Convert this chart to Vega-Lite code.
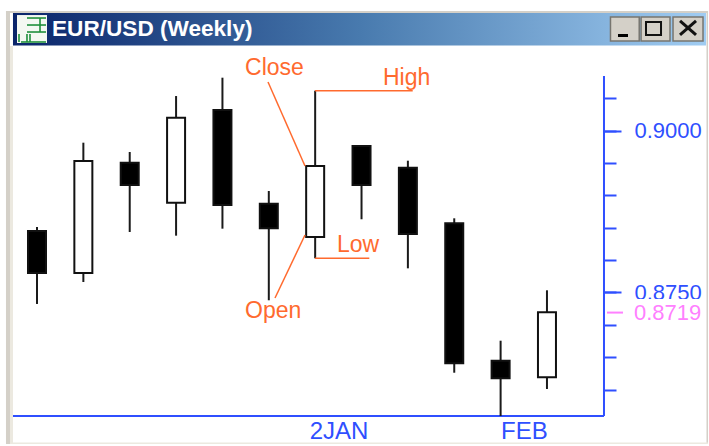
{
"$schema":"https://vega.github.io/schema/vega-lite/v6.json",
"width":709,"height":446,"padding":0,"autosize":{"type":"none"},"background":"#ffffff",
"config":{"view":{"stroke":null},"axis":{"grid":false,"title":null},"scale":{"continuousPadding":0}},
"datasets":{
"candles":[
{"week":0,"open":0.88449,"close":0.87801,"high":0.88511,"low":0.87323,"direction":"down"},
{"week":1,"open":0.87801,"close":0.89529,"high":0.89812,"low":0.87662,"direction":"up"},
{"week":2,"open":0.89503,"close":0.89159,"high":0.89668,"low":0.88434,"direction":"down"},
{"week":3,"open":0.88886,"close":0.90198,"high":0.90532,"low":0.88377,"direction":"up"},
{"week":4,"open":0.90316,"close":0.8885,"high":0.90815,"low":0.88485,"direction":"down"},
{"week":5,"open":0.8887,"close":0.88491,"high":0.89066,"low":0.8738,"direction":"down"},
{"week":6,"open":0.88356,"close":0.89452,"high":0.90614,"low":0.88028,"direction":"up"},
{"week":7,"open":0.89761,"close":0.89159,"high":0.89776,"low":0.8863,"direction":"down"},
{"week":8,"open":0.89426,"close":0.88403,"high":0.89534,"low":0.87873,"direction":"down"},
{"week":9,"open":0.88568,"close":0.86407,"high":0.88645,"low":0.86262,"direction":"down"},
{"week":10,"open":0.86448,"close":0.86176,"high":0.86756,"low":0.85594,"direction":"down"},
{"week":11,"open":0.86191,"close":0.87194,"high":0.87534,"low":0.86011,"direction":"up"}
],
"frame":[
{"part":"frame","x0":-0.669,"x1":-0.582,"p0":0.91844,"p1":0.85162},
{"part":"frameLight","x0":-0.582,"x1":-0.518,"p0":0.91304,"p1":0.85162},
{"part":"frame","x0":-0.669,"x1":14.474,"p0":0.91844,"p1":0.91813},
{"part":"frame","x0":14.441,"x1":14.474,"p0":0.91844,"p1":0.85162},
{"part":"frameLight","x0":-0.582,"x1":14.474,"p0":0.85185,"p1":0.85162}
],
"titlebar":[{"x0":-0.518,"x1":14.431,"p0":0.91813,"p1":0.91312}],
"buttons":[
{"name":"minimize","x0":12.37,"x1":12.99,"p0":0.91752,"p1":0.91381},
{"name":"maximize","x0":13.03,"x1":13.654,"p0":0.91752,"p1":0.91381},
{"name":"close","x0":13.719,"x1":14.366,"p0":0.91752,"p1":0.91381}
],
"glyphs":[
{"part":"icon","x0":-0.431,"x1":0.216,"p0":0.91782,"p1":0.9135},
{"part":"glyph","x0":12.532,"x1":12.748,"p0":0.91489,"p1":0.91443}
],
"maxGlyph":[{"x0":13.136,"x1":13.46,"p0":0.91674,"p1":0.91474}],
"closeGlyph":[
{"x0":13.87,"x1":14.215,"p0":0.9169,"p1":0.91474},
{"x0":13.87,"x1":14.215,"p0":0.91474,"p1":0.9169}
],
"iconLines":[
{"x0":-0.216,"x1":0.194,"p0":0.91736,"p1":0.91736},
{"x0":-0.216,"x1":0.194,"p0":0.91628,"p1":0.91628},
{"x0":-0.216,"x1":0.194,"p0":0.9152,"p1":0.9152},
{"x0":-0.345,"x1":0.194,"p0":0.91366,"p1":0.91366},
{"x0":0.065,"x1":0.065,"p0":0.91736,"p1":0.9152},
{"x0":-0.388,"x1":-0.388,"p0":0.91489,"p1":0.91366},
{"x0":-0.151,"x1":-0.151,"p0":0.91489,"p1":0.91366},
{"x0":-0.216,"x1":-0.216,"p0":0.91489,"p1":0.91366}
],
"windowTitle":[{"label":"EUR/USD (Weekly)","x0":0.324,"p0":0.91463}],
"axisLines":[
{"x0":12.23,"x1":12.23,"p0":0.90841,"p1":0.85594},
{"x0":-0.518,"x1":12.23,"p0":0.85594,"p1":0.85594}
],
"annotations":[
{"name":"Close","x0":4.983,"p0":0.90748,"x1":5.781,"p1":0.89452},
{"name":"High","x0":5.996,"p0":0.90614,"x1":8.104,"p1":0.90614},
{"name":"Low","x0":5.996,"p0":0.88028,"x1":7.168,"p1":0.88028},
{"name":"Open","x0":5.781,"p0":0.88387,"x1":5.134,"p1":0.87415}
],
"annotationLabels":[
{"label":"Close","x0":4.487,"p0":0.90856},
{"label":"High","x0":7.463,"p0":0.90702},
{"label":"Low","x0":6.471,"p0":0.88125},
{"label":"Open","x0":4.487,"p0":0.87106}
],
"patch":[{"x0":12.7,"x1":14.41,"p0":0.874,"p1":0.87037}],
"current":[{"label":"0.8719","price":0.8719,"x0":12.295,"x1":12.64,"xText":12.877}]
},
"resolve":{"axis":{"x":"independent","y":"independent"}},
"layer":[
{"data":{"name":"frame"},"mark":{"type":"rect"},"encoding":{
"x":{"field":"x0","type":"quantitative","axis":null,"scale":{"domain":[-0.798,14.495],"nice":false,"zero":false,"padding":0}},"x2":{"field":"x1"},
"y":{"field":"p0","type":"quantitative","axis":null,"scale":{"domain":[0.85131,0.92014],"nice":false,"zero":false}},"y2":{"field":"p1"},
"fill":{"field":"part","type":"nominal","legend":null,"scale":{"domain":["frame","frameLight","icon","glyph","up","down"],"range":["#d4d0c8","#ece9e0","#f4f8f2","#000000","#ffffff","#000000"]}}}},
{"data":{"name":"titlebar"},"mark":{"type":"rect","fill":{"gradient":"linear","x1":0,"y1":0,"x2":1,"y2":0,"stops":[{"offset":0,"color":"#0a246a"},{"offset":0.5,"color":"#487aae"},{"offset":1,"color":"#a0ccf2"}]}},"encoding":{
"x":{"field":"x0","type":"quantitative","axis":null,"scale":{"domain":[-0.798,14.495],"nice":false,"zero":false,"padding":0}},"x2":{"field":"x1"},
"y":{"field":"p0","type":"quantitative","axis":null,"scale":{"domain":[0.85131,0.92014],"nice":false,"zero":false}},"y2":{"field":"p1"}}},
{"data":{"name":"buttons"},"mark":{"type":"rect","fill":"#d4d0c8","stroke":"#77756f","strokeWidth":1.5},"encoding":{
"x":{"field":"x0","type":"quantitative","axis":null,"scale":{"domain":[-0.798,14.495],"nice":false,"zero":false,"padding":0}},"x2":{"field":"x1"},
"y":{"field":"p0","type":"quantitative","axis":null,"scale":{"domain":[0.85131,0.92014],"nice":false,"zero":false}},"y2":{"field":"p1"}}},
{"data":{"name":"glyphs"},"mark":{"type":"rect"},"encoding":{
"x":{"field":"x0","type":"quantitative","axis":null,"scale":{"domain":[-0.798,14.495],"nice":false,"zero":false,"padding":0}},"x2":{"field":"x1"},
"y":{"field":"p0","type":"quantitative","axis":null,"scale":{"domain":[0.85131,0.92014],"nice":false,"zero":false}},"y2":{"field":"p1"},
"fill":{"field":"part","type":"nominal","legend":null,"scale":{"domain":["frame","frameLight","icon","glyph","up","down"],"range":["#d4d0c8","#ece9e0","#f4f8f2","#000000","#ffffff","#000000"]}}}},
{"data":{"name":"maxGlyph"},"mark":{"type":"rect","fillOpacity":0,"stroke":"#111111","strokeWidth":2},"encoding":{
"x":{"field":"x0","type":"quantitative","axis":null,"scale":{"domain":[-0.798,14.495],"nice":false,"zero":false,"padding":0}},"x2":{"field":"x1"},
"y":{"field":"p0","type":"quantitative","axis":null,"scale":{"domain":[0.85131,0.92014],"nice":false,"zero":false}},"y2":{"field":"p1"}}},
{"data":{"name":"closeGlyph"},"mark":{"type":"rule","color":"#111111","strokeWidth":3},"encoding":{
"x":{"field":"x0","type":"quantitative","axis":null,"scale":{"domain":[-0.798,14.495],"nice":false,"zero":false,"padding":0}},"x2":{"field":"x1"},
"y":{"field":"p0","type":"quantitative","axis":null,"scale":{"domain":[0.85131,0.92014],"nice":false,"zero":false}},"y2":{"field":"p1"}}},
{"data":{"name":"iconLines"},"mark":{"type":"rule","color":"#1f8f3c","strokeWidth":1.6},"encoding":{
"x":{"field":"x0","type":"quantitative","axis":null,"scale":{"domain":[-0.798,14.495],"nice":false,"zero":false,"padding":0}},"x2":{"field":"x1"},
"y":{"field":"p0","type":"quantitative","axis":null,"scale":{"domain":[0.85131,0.92014],"nice":false,"zero":false}},"y2":{"field":"p1"}}},
{"data":{"name":"windowTitle"},"mark":{"type":"text","align":"left","baseline":"alphabetic","font":"Liberation Sans","fontSize":22.6,"fontWeight":"bold","color":"#ffffff"},"encoding":{
"x":{"field":"x0","type":"quantitative","axis":null,"scale":{"domain":[-0.798,14.495],"nice":false,"zero":false,"padding":0}},
"y":{"field":"p0","type":"quantitative","axis":null,"scale":{"domain":[0.85131,0.92014],"nice":false,"zero":false}},
"text":{"field":"label"}}},
{"data":{"name":"axisLines"},"mark":{"type":"rule","color":"#2f4fff","strokeWidth":2},"encoding":{
"x":{"field":"x0","type":"quantitative","axis":null,"scale":{"domain":[-0.798,14.495],"nice":false,"zero":false,"padding":0}},"x2":{"field":"x1"},
"y":{"field":"p0","type":"quantitative","axis":null,"scale":{"domain":[0.85131,0.92014],"nice":false,"zero":false}},"y2":{"field":"p1"}}},
{"data":{"name":"candles"},"mark":{"type":"rule","color":"#1a1a1a","strokeWidth":2},"encoding":{
"x":{"field":"week","type":"quantitative","axis":null,"scale":{"domain":[-0.798,14.495],"nice":false,"zero":false,"padding":0}},
"y":{"field":"low","type":"quantitative","scale":{"domain":[0.85131,0.92014],"nice":false,"zero":false},
"axis":{"orient":"right","offset":-105,"domain":false,"labels":false,"values":[0.86,0.865,0.87,0.875,0.88,0.885,0.89,0.895,0.9,0.905],"tickSize":12,"tickWidth":2,"tickColor":"#2f4fff"}},
"y2":{"field":"high"}}},
{"data":{"name":"candles"},"mark":{"type":"bar","orient":"vertical","size":18,"stroke":"#111111","strokeWidth":2},"encoding":{
"x":{"field":"week","type":"quantitative","scale":{"domain":[-0.798,14.495],"nice":false,"zero":false,"padding":0},
"axis":{"orient":"bottom","offset":-30,"domain":false,"ticks":false,"values":[5.87,10],"labelExpr":"datum.value > 8 ? 'FEB' : '2JAN'","labelFont":"Liberation Sans","labelFontSize":24,"labelColor":"#2f4fff","labelAlign":"left","labelBaseline":"top","labelPadding":3,"labelOverlap":false,"labelFlush":false}},
"y":{"field":"open","type":"quantitative","scale":{"domain":[0.85131,0.92014],"nice":false,"zero":false},
"axis":{"orient":"right","offset":-105,"domain":false,"values":[0.875,0.9],"format":".4f","tickSize":17,"tickWidth":2,"tickColor":"#2f4fff","labelFont":"Liberation Sans","labelFontSize":22,"labelColor":"#2f4fff","labelPadding":13,"labelOverlap":false,"labelFlush":false}},
"y2":{"field":"close"},
"fill":{"field":"direction","type":"nominal","legend":null,"scale":{"domain":["frame","frameLight","icon","glyph","up","down"],"range":["#d4d0c8","#ece9e0","#f4f8f2","#000000","#ffffff","#000000"]}}}},
{"data":{"name":"annotations"},"mark":{"type":"rule","color":"#ff6a2e","strokeWidth":1.5},"encoding":{
"x":{"field":"x0","type":"quantitative","axis":null,"scale":{"domain":[-0.798,14.495],"nice":false,"zero":false,"padding":0}},"x2":{"field":"x1"},
"y":{"field":"p0","type":"quantitative","axis":null,"scale":{"domain":[0.85131,0.92014],"nice":false,"zero":false}},"y2":{"field":"p1"}}},
{"data":{"name":"annotationLabels"},"mark":{"type":"text","align":"left","baseline":"alphabetic","font":"Liberation Sans","fontSize":23,"color":"#ff6a2e"},"encoding":{
"x":{"field":"x0","type":"quantitative","axis":null,"scale":{"domain":[-0.798,14.495],"nice":false,"zero":false,"padding":0}},
"y":{"field":"p0","type":"quantitative","axis":null,"scale":{"domain":[0.85131,0.92014],"nice":false,"zero":false}},
"text":{"field":"label"}}},
{"data":{"name":"patch"},"mark":{"type":"rect","fill":"#ffffff"},"encoding":{
"x":{"field":"x0","type":"quantitative","axis":null,"scale":{"domain":[-0.798,14.495],"nice":false,"zero":false,"padding":0}},"x2":{"field":"x1"},
"y":{"field":"p0","type":"quantitative","axis":null,"scale":{"domain":[0.85131,0.92014],"nice":false,"zero":false}},"y2":{"field":"p1"}}},
{"data":{"name":"current"},"mark":{"type":"rule","color":"#ff80ff","strokeWidth":2},"encoding":{
"x":{"field":"x0","type":"quantitative","axis":null,"scale":{"domain":[-0.798,14.495],"nice":false,"zero":false,"padding":0}},"x2":{"field":"x1"},
"y":{"field":"price","type":"quantitative","axis":null,"scale":{"domain":[0.85131,0.92014],"nice":false,"zero":false}}}},
{"data":{"name":"current"},"mark":{"type":"text","align":"left","baseline":"middle","font":"Liberation Sans","fontSize":22,"color":"#ff80ff"},"encoding":{
"x":{"field":"xText","type":"quantitative","axis":null,"scale":{"domain":[-0.798,14.495],"nice":false,"zero":false,"padding":0}},
"y":{"field":"price","type":"quantitative","axis":null,"scale":{"domain":[0.85131,0.92014],"nice":false,"zero":false}},
"text":{"field":"label"}}}
]
}
